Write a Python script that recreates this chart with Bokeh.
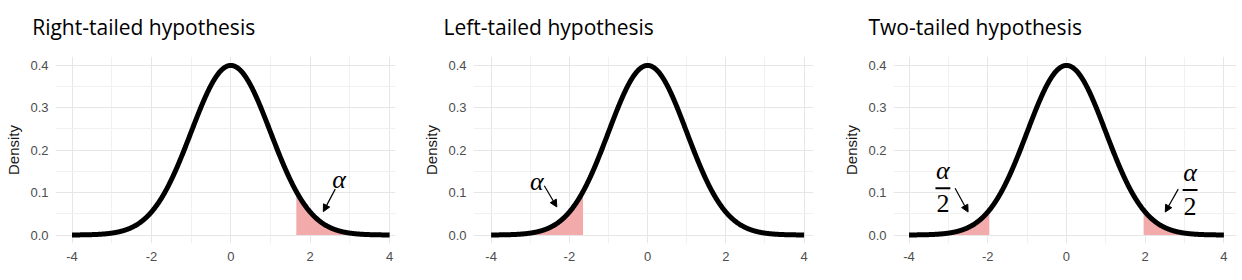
import numpy as np
from bokeh.plotting import figure
from bokeh.layouts import row, column
from bokeh.models import Label, Arrow, NormalHead, FixedTicker, Range1d, CustomJSTickFormatter
from bokeh.core.properties import value
from bokeh.embed import file_html
from bokeh.resources import INLINE

# Standard normal density curve
mu, sigma = 0.0, 1.0
z_lo, z_hi, z_step = -4.0, 4.0, 0.01
z = np.arange(z_lo, z_hi + z_step / 2, z_step)
density = np.exp(-0.5 * ((z - mu) / sigma) ** 2) / (sigma * np.sqrt(2 * np.pi))

titles = ["Right-tailed hypothesis", "Left-tailed hypothesis", "Two-tailed hypothesis"]

# Rejection regions (lower, upper) shaded under the curve
rejection_regions = [
    [(1.645, 4.0)],
    [(-4.0, -1.645)],
    [(-4.0, -1.96), (1.96, 4.0)],
]

x_ticks = [-4, -2, 0, 2, 4]
x_minor = [-3, -1, 1, 3]
y_ticks = [0.0, 0.1, 0.2, 0.3, 0.4]
y_minor = [0.05, 0.15, 0.25, 0.35]

TOTAL_W, TOTAL_H = 1242, 280
STRIP_H = 40                      # height of the title strip
title_x = [31.7, 443.0, 868.0]    # left edge of each title (px)
title_baseline = 26.7             # baseline, px from the top

# Panel geometry: figure width, left border, frame width, frame top (px from page top), x start
panels = [
    dict(width=420, left=55, frame_w=340, top=52, x0=-4.416),
    dict(width=420, left=48, frame_w=345, top=55, x0=-4.45),
    dict(width=402, left=50, frame_w=346, top=56, x0=-4.395),
]
FRAME_H = 191
PX_PER_UNIT = 39.7

# Annotation placement: alpha labels and arrows (data coords)
annotations = [
    [dict(kind="alpha", x=2.73, y=0.131, arrow=(2.63, 0.108, 2.33, 0.055))],
    [dict(kind="alpha", x=-2.83, y=0.125, arrow=(-2.64, 0.116, -2.32, 0.066))],
    [dict(kind="half", x=-3.14, ya=0.151, yb=0.110, y2=0.073, arrow=(-2.83, 0.110, -2.50, 0.054)),
     dict(kind="half", x=3.14, ya=0.146, yb=0.106, y2=0.068, arrow=(2.84, 0.108, 2.51, 0.054))],
]

FILL = "#f2aaaa"
GRID_MAJOR = "#e6e6e6"
GRID_MINOR = "#f1f1f1"
TICK_COLOR = "#4d4d4d"

# Title strip across the top
strip = figure(width=TOTAL_W, height=STRIP_H, x_range=Range1d(0, TOTAL_W), y_range=Range1d(0, STRIP_H),
               output_backend="svg", toolbar_location=None, min_border=0,
               outline_line_color=None, title=None)
strip.axis.visible = False
strip.grid.visible = False
strip.text(x=title_x, y=[STRIP_H - title_baseline] * len(titles), text=titles,
           text_font=value("Open Sans"), text_font_size=value("21px"), text_color="black",
           text_baseline="alphabetic", text_align="left")

figs = []
PLOT_H = TOTAL_H - STRIP_H
for i, geo in enumerate(panels):
    x_end = geo["x0"] + geo["frame_w"] / PX_PER_UNIT
    top = geo["top"] - STRIP_H
    p = figure(
        width=geo["width"], height=PLOT_H,
        x_range=Range1d(geo["x0"], x_end), y_range=Range1d(-0.02, 0.42),
        output_backend="svg", toolbar_location=None,
        min_border_left=geo["left"], min_border_right=geo["width"] - geo["left"] - geo["frame_w"],
        min_border_top=top, min_border_bottom=PLOT_H - top - FRAME_H,
        outline_line_color=None, title=None,
    )
    p.background_fill_color = "white"
    p.border_fill_color = "white"

    xt = FixedTicker(ticks=x_ticks, minor_ticks=x_minor)
    yt = FixedTicker(ticks=y_ticks, minor_ticks=y_minor)
    p.xaxis.ticker = xt
    p.yaxis.ticker = yt
    p.xgrid.ticker = xt
    p.ygrid.ticker = yt
    for g in (p.xgrid, p.ygrid):
        g.grid_line_color = GRID_MAJOR
        g.grid_line_width = 1
        g.minor_grid_line_color = GRID_MINOR
        g.minor_grid_line_width = 1
    p.xaxis.formatter = CustomJSTickFormatter(code="return tick.toString();")
    p.yaxis.formatter = CustomJSTickFormatter(code="return tick.toFixed(1);")

    for ax in (p.xaxis, p.yaxis):
        ax.axis_line_color = None
        ax.major_tick_line_color = None
        ax.minor_tick_line_color = None
        ax.major_tick_out = 0
        ax.minor_tick_out = 0
        ax.major_label_text_font = "Liberation Sans"
        ax.major_label_text_font_size = "13px"
        ax.major_label_text_color = TICK_COLOR
    p.xaxis.major_label_standoff = 8
    p.yaxis.major_label_standoff = 7
    p.yaxis.axis_label = "Density"
    p.yaxis.axis_label_text_font = "Liberation Sans"
    p.yaxis.axis_label_text_font_size = "15px"
    p.yaxis.axis_label_text_font_style = "normal"
    p.yaxis.axis_label_text_color = "#1a1a1a"
    p.yaxis.axis_label_standoff = 5

    # shaded rejection regions
    for lo, hi in rejection_regions[i]:
        m = (z >= lo - 1e-9) & (z <= hi + 1e-9)
        p.varea(x=z[m], y1=np.zeros(m.sum()), y2=density[m], fill_color=FILL, fill_alpha=1.0)

    # density curve
    p.line(z, density, line_color="black", line_width=5, line_cap="butt", line_join="round")

    # alpha annotations
    for a in annotations[i]:
        x0, y0, x1, y1 = a["arrow"]
        p.add_layout(Arrow(x_start=x0, y_start=y0, x_end=x1, y_end=y1, line_width=1.2,
                           line_color="black",
                           end=NormalHead(size=7, fill_color="black", line_color="black")))
        if a["kind"] == "alpha":
            p.add_layout(Label(x=a["x"], y=a["y"], text="α", text_font="Liberation Serif",
                               text_font_style="italic", text_font_size="26px", text_color="black",
                               text_align="center", text_baseline="middle"))
        else:
            p.add_layout(Label(x=a["x"], y=a["ya"], text="α", text_font="Liberation Serif",
                               text_font_style="italic", text_font_size="26px", text_color="black",
                               text_align="center", text_baseline="middle"))
            half = 7.5 / PX_PER_UNIT
            p.segment(x0=[a["x"] - half], y0=[a["yb"]], x1=[a["x"] + half], y1=[a["yb"]],
                      line_color="black", line_width=2)
            p.add_layout(Label(x=a["x"], y=a["y2"], text="2", text_font="Liberation Serif",
                               text_font_size="26px", text_color="black",
                               text_align="center", text_baseline="middle"))
    figs.append(p)

layout = column(strip, row(figs))
open("out.html", "w").write(file_html(layout, INLINE))
